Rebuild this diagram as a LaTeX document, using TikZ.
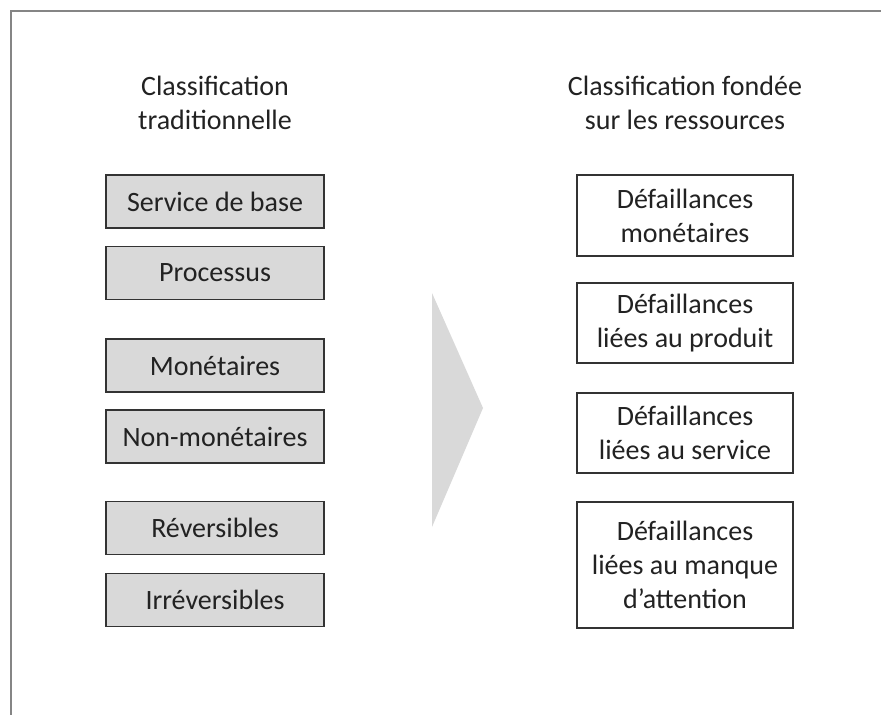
\documentclass[tikz,border=0pt]{standalone}
\usepackage{fontspec}
\setmainfont{Carlito}
\usetikzlibrary{positioning}

\definecolor{boxgray}{HTML}{D9D9D9}
\definecolor{framegray}{HTML}{858585}
\definecolor{textgray}{HTML}{222222}

\tikzset{
    classbox/.style={draw=black!80, line width=1.2pt, minimum width=218pt, minimum height=53pt,
        inner sep=0pt, align=center, text=textgray},
    oldbox/.style={classbox, fill=boxgray},
    newbox/.style={classbox, fill=white, minimum width=216pt},
    title/.style={align=center, text=textgray}
}

\begin{document}
\begin{tikzpicture}[x=1pt, y=-1pt, font=\fontsize{28}{34}\selectfont]

    \useasboundingbox (0,0) rectangle (881,715);

    % frame
    \draw[framegray, line width=2pt] (881,11) -- (11,11) -- (11,715);

    % column titles
    \node[title] (oldtitle) at (215,103) {Classification\\traditionnelle};
    \node[title] (newtitle) at (685,103) {Classification fondée\\sur les ressources};

    % traditional classification
    \node[oldbox] (base) at (215,201.5) {Service de base};
    \node[oldbox] (proc) at (215,273) {Processus};
    \node[oldbox] (mon) at (215,365.5) {Monétaires};
    \node[oldbox] (nonmon) at (215,436.5) {Non-monétaires};
    \node[oldbox] (rev) at (215,528) {Réversibles};
    \node[oldbox] (irrev) at (215,600) {Irréversibles};

    % big arrow
    \fill[boxgray] (432,293) -- (483,408) -- (432,527) -- cycle;

    % resource based classification
    \node[newbox, minimum height=81pt] (dmon) at (685,215.5) {Défaillances\\monétaires};
    \node[newbox, minimum height=80pt] (dprod) at (685,323) {Défaillances\\liées au produit};
    \node[newbox, minimum height=80pt] (dserv) at (685,433) {Défaillances\\liées au service};
    \node[newbox, minimum height=126pt] (datt) at (685,565) {Défaillances\\liées au manque\\d’attention};

\end{tikzpicture}
\end{document}
